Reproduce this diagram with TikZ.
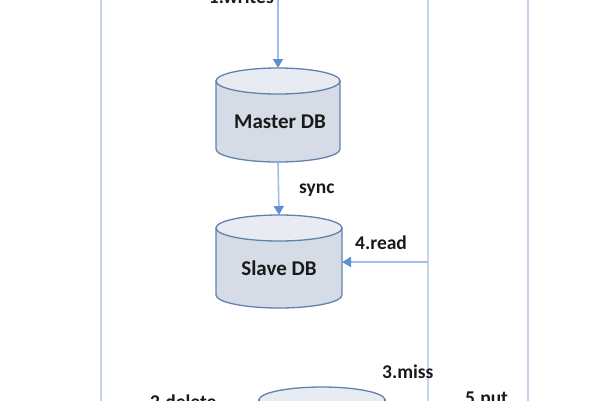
\documentclass[tikz,border=0pt]{standalone}
\usepackage{fontspec}
\setmainfont{Carlito}
\usetikzlibrary{arrows.meta}
\definecolor{vline}{RGB}{196,212,237}
\definecolor{aline}{RGB}{160,190,230}
\definecolor{atip}{RGB}{91,145,210}
\definecolor{cylfill}{RGB}{214,220,230}
\definecolor{cyltop}{RGB}{232,236,242}
\definecolor{cylborder}{RGB}{95,130,175}
\begin{document}
\begin{tikzpicture}[x=1pt,y=-1pt,
  vl/.style={draw=vline,line width=2pt},
  arr/.style={draw=aline,line width=1.6pt,-{Triangle[length=9pt,width=10pt,fill=atip,color=atip]}},
  lbl/.style={font=\bfseries\fontsize{19.5}{22}\selectfont,text=black!90,inner sep=0pt},
  dbl/.style={font=\bfseries\fontsize{21}{24}\selectfont,text=black!90,inner sep=0pt},
  cyl/.style={draw=cylborder,line width=1.3pt,fill=cylfill},
  cyltopst/.style={draw=cylborder,line width=1.3pt,fill=cyltop}]
\useasboundingbox (0,0) rectangle (600,400);
\clip (0,0) rectangle (600,400);
% vertical lines
\coordinate (l1t) at (101,-5); \coordinate (l1b) at (101,405);
\coordinate (l2t) at (428,-5); \coordinate (l2b) at (428,405);
\coordinate (l3t) at (528,-5); \coordinate (l3b) at (528,405);
\draw[vl] (l1t) -- (l1b);
\draw[vl] (l2t) -- (l2b);
\draw[vl] (l3t) -- (l3b);
% Master DB
\draw[cyl] (216,81) -- (216,149) arc[start angle=180,end angle=360,x radius=62,y radius=-13] -- (340,81) -- cycle;
\draw[cyltopst] (278,81) ellipse[x radius=62,y radius=13];
\node[dbl] (master) at (280,122) {Master DB};
\coordinate (mtop) at (278,68);
\coordinate (mbot) at (278,162);
% Slave DB
\draw[cyl] (216,228) -- (216,295) arc[start angle=180,end angle=360,x radius=63,y radius=-13] -- (342,228) -- cycle;
\draw[cyltopst] (279,228) ellipse[x radius=63,y radius=13];
\node[dbl] (slave) at (279,268) {Slave DB};
\coordinate (stop) at (279,215);
\coordinate (sright) at (342,262);
% Cache
\draw[cyl] (259,400) -- (259,460) -- (385,460) -- (385,400) -- cycle;
\draw[cyltopst] (322,400) ellipse[x radius=63,y radius=13];
% arrows
\coordinate (top) at (278,-5);
\coordinate (rd) at (428,262);
\draw[arr] (top) -- (mtop);
\draw[arr] (mbot) -- (stop);
\draw[arr] (rd) -- (sright);
% labels
\node[lbl,anchor=base east] (w) at (274,3) {1.writes};
\node[lbl,anchor=west] (sync) at (299,190) {sync};
\node[lbl,anchor=west] (read) at (355,243) {4.read};
\node[lbl,anchor=west] (miss) at (382,372) {3.miss};
\node[lbl,anchor=north west] (put) at (465,392) {5.put};
\node[lbl,anchor=north west] (del) at (150,395) {2.delete};
\end{tikzpicture}
\end{document}
